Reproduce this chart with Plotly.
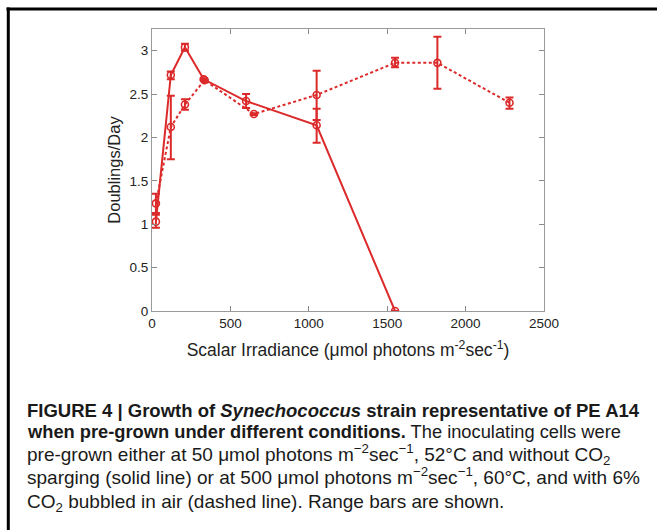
import plotly.graph_objects as go

# ---- data ----
x_solid = [25, 120, 210, 330, 600, 1050, 1550]
y_solid = [1.03, 2.72, 3.04, 2.67, 2.42, 2.14, 0.0]
eu_solid = [0.08, 0.04, 0.04, 0.01, 0.08, 0.19, 0.0]
el_solid = [0.07, 0.05, 0.04, 0.01, 0.08, 0.20, 0.0]

x_dash = [25, 120, 210, 335, 650, 1050, 1550, 1820, 2280]
y_dash = [1.24, 2.12, 2.38, 2.66, 2.27, 2.49, 2.86, 2.86, 2.40]
eu_dash = [0.11, 0.36, 0.06, 0.01, 0.01, 0.28, 0.06, 0.30, 0.06]
el_dash = [0.11, 0.37, 0.06, 0.01, 0.01, 0.29, 0.05, 0.30, 0.07]

x_ticks = [0, 500, 1000, 1500, 2000, 2500]
y_ticks = [0, 0.5, 1, 1.5, 2, 2.5, 3]

caption = [
    "<b>FIGURE 4 | Growth of <i>Synechococcus</i> strain representative of PE A14</b>",
    "<b>when pre-grown under different conditions.</b> The inoculating cells were",
    "pre-grown either at 50 μmol photons m<sup>−2</sup>sec<sup>−1</sup>, 52°C and without CO<sub>2</sub>",
    "sparging (solid line) or at 500 μmol photons m<sup>−2</sup>sec<sup>−1</sup>, 60°C, and with 6%",
    "CO<sub>2</sub> bubbled in air (dashed line). Range bars are shown.",
]

RED = "#dc2a2a"
W, H = 657, 530
L, R, T, B = 152, 113, 29, 219
PW, PH = W - L - R, H - T - B


def xp(px):
    return (px - L) / PW


def yp(py):
    return (H - B - py) / PH


fig = go.Figure()
fig.add_trace(go.Scatter(
    x=x_solid, y=y_solid, mode="lines+markers",
    line=dict(color=RED, width=2),
    marker=dict(symbol="circle-open", size=7, color=RED, line=dict(width=1.6)),
    error_y=dict(type="data", symmetric=False, array=eu_solid, arrayminus=el_solid,
                 color=RED, thickness=2, width=4),
    showlegend=False,
))
fig.add_trace(go.Scatter(
    x=x_dash, y=y_dash, mode="lines+markers",
    line=dict(color=RED, width=2, dash="3px,2.5px"),
    marker=dict(symbol="circle-open", size=7, color=RED, line=dict(width=1.6)),
    error_y=dict(type="data", symmetric=False, array=eu_dash, arrayminus=el_dash,
                 color=RED, thickness=2, width=4),
    showlegend=False,
))

axis_common = dict(
    showline=True, linecolor="#9a9a9a", linewidth=1, mirror="allticks",
    ticks="inside", ticklen=5, tickcolor="#8a8a8a", tickwidth=1,
    showgrid=False, zeroline=False,
    tickfont=dict(family="Liberation Sans, Arial", size=13.5, color="#222"),
)

fig.update_layout(
    width=W, height=H,
    margin=dict(l=L, r=R, t=T, b=B),
    paper_bgcolor="white", plot_bgcolor="white",
    xaxis=dict(range=[0, 2500], tickvals=x_ticks, ticktext=[str(v) for v in x_ticks],
               title=dict(text="Scalar Irradiance (μmol photons m<sup>-2</sup>sec<sup>-1</sup>)",
                          font=dict(family="Liberation Sans, Arial", size=17.5, color="#222"),
                          standoff=13),
               **axis_common),
    yaxis=dict(range=[0, 3.25], tickvals=y_ticks, ticktext=[f"{v:g}" for v in y_ticks],
               title=dict(text="Doublings/Day",
                          font=dict(family="Liberation Sans, Arial", size=16.5, color="#222"),
                          standoff=4),
               **axis_common),
    font=dict(family="Liberation Sans, Arial"),
)

# frame lines
fig.add_shape(type="line", xref="paper", yref="paper",
              x0=xp(6.5), x1=xp(660), y0=yp(9), y1=yp(9),
              line=dict(color="black", width=3))
fig.add_shape(type="line", xref="paper", yref="paper",
              x0=xp(8.3), x1=xp(8.3), y0=yp(7.5), y1=yp(535),
              line=dict(color="black", width=3))

# caption
baselines = [415.7, 438.3, 460.5, 483, 505.5]
sizes = [18.5, 18.3, 19, 19, 19]
extra = [0, -1.5, 1.5, 0, 3.5]
for text, bl, sz, ex in zip(caption, baselines, sizes, extra):
    fig.add_annotation(
        text=text, xref="paper", yref="paper", x=xp(25), y=yp(bl + 7.5 + ex),
        xanchor="left", yanchor="bottom", showarrow=False, align="left",
        font=dict(family="Liberation Sans, Arial", size=sz, color="#1a1a1a"),
    )

fig.write_html("out.html", config={"displayModeBar": False},
               post_script="document.body.style.margin='0';")
